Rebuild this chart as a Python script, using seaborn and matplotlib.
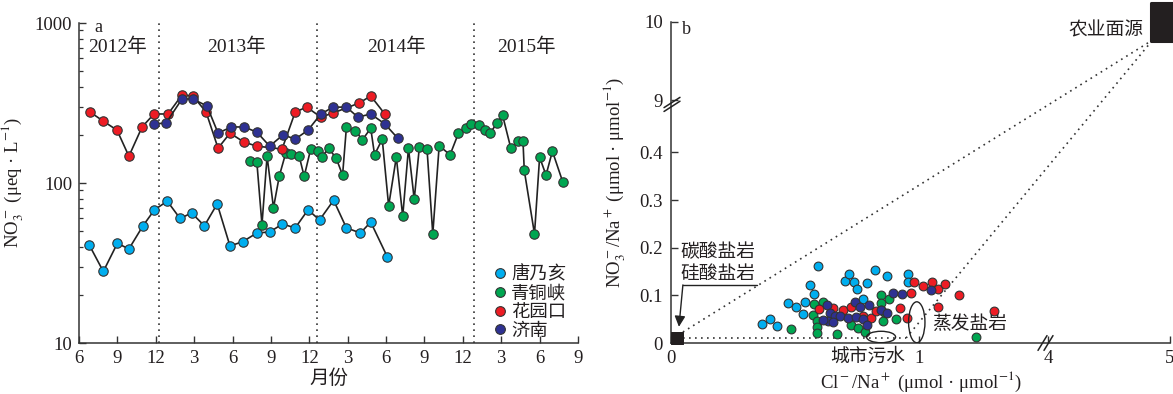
import numpy as np
import pandas as pd
import matplotlib
matplotlib.use('Agg')
import matplotlib.pyplot as plt
import seaborn as sns
from matplotlib.lines import Line2D
from matplotlib.patches import Ellipse

# ---------------- data: panel a (months since June 2012) ----------------
stations = ['唐乃亥', '青铜峡', '花园口', '济南']
colors = ['#00AEEF', '#00A651', '#ED1C24', '#2E3192']

m_tnh = [0.8, 1.9, 3.0, 3.9, 5.0, 5.9, 6.9, 7.9, 8.8, 9.8, 10.8, 11.8, 12.8, 13.9,
         14.9, 15.9, 16.9, 17.9, 18.8, 19.9, 20.9, 22.0, 22.8, 24.1]
v_tnh = [41, 28, 42, 38.7, 54, 68, 77, 60, 65, 54, 74, 40.4, 43, 48.7,
         49.4, 55.4, 52.4, 68, 58.7, 78, 52.4, 48.7, 57, 34.5]

m_qtx = [13.4, 13.9, 14.3, 14.7, 15.2, 15.66, 16.15, 16.6, 17.2, 17.6, 18.1, 18.7,
         19.0, 19.5, 20.1, 20.6, 20.9, 21.6, 22.15, 22.8, 23.1, 23.7, 24.2, 24.8,
         25.3, 25.75, 26.2, 26.6, 27.2, 27.65, 28.15, 29.0, 29.65, 30.26, 30.65,
         31.27, 31.74, 32.1, 32.7, 33.1, 33.75, 34.3, 34.7, 34.8, 35.6, 36.0, 36.5,
         37.0, 37.8]
v_qtx = [138, 135, 55, 147, 70, 111, 153, 152, 148, 110, 162, 158,
         146, 165, 143, 112, 223, 212, 186, 220, 150, 188, 72, 145,
         62, 165, 79, 167, 163, 48, 171, 150, 204, 220, 234,
         230, 214, 204, 238, 266, 165, 183, 183, 120, 48, 145, 112,
         158, 102]

m_hyk = [0.86, 1.88, 2.97, 3.9, 4.93, 5.86, 6.96, 8.05, 8.9, 9.93, 10.87, 11.8,
         12.9, 13.9, 15.87, 16.9, 17.8, 18.9, 19.86, 21.9, 22.8, 23.9]
v_hyk = [278, 244, 214, 147, 224, 270, 270, 355, 350, 278, 165, 205,
         180, 170, 163, 278, 298, 258, 274, 316, 350, 270]

m_jn = [5.86, 6.8, 8.05, 8.9, 10.0, 10.87, 11.9, 12.9, 13.9, 14.9, 15.95, 16.9,
        17.9, 18.9, 19.86, 20.9, 21.8, 22.8, 23.9, 24.9]
v_jn = [234, 237, 335, 335, 303, 205, 224, 224, 208, 170, 200, 188,
        214, 270, 298, 298, 258, 270, 234, 191]

month_ticks = list(range(0, 40, 3))
month_labels = ['6', '9', '12', '3', '6', '9', '12', '3', '6', '9', '12', '3', '6', '9']
year_bounds = [6.22, 18.58, 30.9]
year_labels = ['2012年', '2013年', '2014年', '2015年']
year_pos = [3.0, 12.3, 24.8, 35.0]

# ---------------- data: panel b ----------------
clna_tnh = [0.367, 0.399, 0.427, 0.472, 0.504, 0.532, 0.540, 0.560, 0.575, 0.592,
            0.702, 0.719, 0.738, 0.751, 0.773, 0.789, 0.823, 0.870, 0.954, 0.954]
nona_tnh = [0.040, 0.050, 0.036, 0.084, 0.075, 0.061, 0.086, 0.121, 0.102, 0.162,
            0.130, 0.145, 0.128, 0.114, 0.093, 0.125, 0.153, 0.141, 0.144, 0.129]

clna_qtx = [0.482, 0.578, 0.613, 0.574, 0.589, 0.589, 0.589, 0.671, 0.726, 0.754,
            0.782, 0.847, 0.879, 0.846, 0.846, 0.863, 0.907, 0.856, 1.230]
nona_qtx = [0.029, 0.082, 0.087, 0.059, 0.046, 0.034, 0.020, 0.019, 0.038, 0.032,
            0.024, 0.100, 0.092, 0.083, 0.069, 0.062, 0.051, 0.046, 0.013]

clna_hyk = [0.597, 0.653, 0.695, 0.724, 0.775, 0.805, 0.825, 0.923, 0.952, 0.978,
            0.968, 1.017, 1.054, 1.078, 1.105, 1.162, 1.075, 1.302]
nona_hyk = [0.072, 0.074, 0.070, 0.075, 0.057, 0.052, 0.067, 0.073, 0.052, 0.129,
            0.106, 0.120, 0.129, 0.113, 0.124, 0.101, 0.075, 0.067]

clna_jn = [0.628, 0.641, 0.661, 0.681, 0.634, 0.654, 0.614, 0.715, 0.742, 0.762,
           0.800, 0.746, 0.773, 0.789, 0.847, 0.872, 0.894, 0.933, 1.050]
nona_jn = [0.080, 0.064, 0.057, 0.057, 0.047, 0.045, 0.048, 0.052, 0.087, 0.076,
           0.080, 0.054, 0.050, 0.038, 0.069, 0.064, 0.104, 0.102, 0.111]

# end members: carbonate/silicate (origin) and agricultural source
em_x = [0.024, 5.0]
em_y = [0.011, 10.0]

# ---------------- style ----------------
sns.set_theme(style='ticks')
plt.rcParams['font.family'] = ['Liberation Serif', 'Noto Sans CJK SC']
plt.rcParams['mathtext.fontset'] = 'stix'
plt.rcParams['axes.unicode_minus'] = False
TXT = '#231F20'
plt.rcParams.update({
    'xtick.direction': 'in', 'ytick.direction': 'in',
    'axes.edgecolor': '#333333', 'axes.linewidth': 1.1,
    'xtick.color': '#333333', 'ytick.color': '#333333',
    'xtick.labelcolor': TXT, 'ytick.labelcolor': TXT,
    'text.color': TXT, 'axes.labelcolor': TXT,
    'xtick.major.width': 1.0, 'ytick.major.width': 1.0,
    'ytick.minor.width': 0.9,
})
FS = 13.5
EDGE = '#333333'

fig = plt.figure(figsize=(11.73, 3.94), dpi=100)
ax1 = fig.add_axes([79 / 1173, 51 / 394, 499 / 1173, 320 / 394])
ax2 = fig.add_axes([671 / 1173, 51 / 394, 499 / 1173, 321 / 394])

# ---------------- panel a ----------------
ax1.set_yscale('log')
series_a = [(m_tnh, v_tnh), (m_qtx, v_qtx), (m_hyk, v_hyk), (m_jn, v_jn)]
for i, ((mx, vy), c) in enumerate(zip(series_a, colors)):
    df = pd.DataFrame({'m': mx, 'v': vy})
    sns.lineplot(data=df, x='m', y='v', estimator=None, sort=False, color='#222222',
                 lw=1.2, ax=ax1, zorder=2 + 2 * i)
    sns.scatterplot(data=df, x='m', y='v', color=c, edgecolor=EDGE, linewidth=0.8,
                    s=46, ax=ax1, zorder=3 + 2 * i, legend=False)

for b in year_bounds:
    ax1.axvline(b, color='#333333', lw=1.2, ls=(0, (1, 2.6)), zorder=1)
for lab, p in zip(year_labels, year_pos):
    ax1.text(p, 0.925, lab, transform=ax1.get_xaxis_transform(), ha='center',
             va='center', fontsize=14)
ax1.text(0.030, 0.985, 'a', transform=ax1.transAxes, ha='left', va='center', fontsize=13)

ax1.set_xlim(0, 39)
ax1.set_ylim(10, 1000)
ax1.set_xticks(month_ticks)
ax1.set_xticklabels(month_labels)
ax1.set_yticks([10, 100, 1000])
ax1.set_yticklabels(['10', '100', '1000'])
ax1.tick_params(axis='both', which='major', labelsize=FS, length=5, pad=5)
ax1.tick_params(axis='y', which='minor', length=3)
ax1.set_xlabel('月份', fontsize=14, labelpad=2)
ax1.set_ylabel(r'NO$_3^-$ (μeq · L$^{-1}$)', fontsize=FS, labelpad=6)
sns.despine(ax=ax1)

handles = [Line2D([], [], ls='none', marker='o', ms=7, mfc=c, mec=EDGE, mew=0.8)
           for c in colors]
ax1.legend(handles, stations, loc='lower left', bbox_to_anchor=(0.833, 0.01),
           frameon=False, handlelength=0.6, handletextpad=0.3, labelspacing=0.1,
           borderpad=0, borderaxespad=0, prop={'size': 13.2})

# ---------------- panel b ----------------
xb = np.array([-10.0, 0.0, 1.5, 4.0, 5.0, 20.0])
xt = np.array([-10.0, 0.0, 1.5, 1.52, 2.012, 2.012 + 15 * 0.492])
yb = np.array([-10.0, 0.0, 0.5, 9.0, 10.0, 30.0])
yt = np.array([-10.0, 0.0, 0.5, 0.51, 0.674, 0.674 + 20 * 0.164])


def fx(x):
    return np.interp(x, xb, xt)


def ifx(t):
    return np.interp(t, xt, xb)


def fy(y):
    return np.interp(y, yb, yt)


def ify(t):
    return np.interp(t, yt, yb)


ax2.set_xscale('function', functions=(fx, ifx))
ax2.set_yscale('function', functions=(fy, ify))
ax2.set_xlim(0, 5)
ax2.set_ylim(0, 10)

series_b = [(clna_tnh, nona_tnh), (clna_qtx, nona_qtx), (clna_hyk, nona_hyk),
            (clna_jn, nona_jn)]
for i, ((bx, by), c) in enumerate(zip(series_b, colors)):
    sns.scatterplot(x=bx, y=by, color=c, edgecolor=EDGE, linewidth=0.8, s=40,
                    ax=ax2, zorder=5 + i, legend=False)

# mixing lines (dotted)
dot = dict(color='#333333', lw=1.2, ls=(0, (1, 2.6)), zorder=2)
ax2.plot([0.048, 4.858], [0.023, 9.77], **dot)
ax2.plot([0.048, 0.948], [0.0105, 0.0105], **dot)
ax2.plot([0.948, 4.858], [0.0105, 9.77], **dot)

# end members
sns.scatterplot(x=em_x[:1], y=em_y[:1], marker='s', color='#231F20', s=80,
                edgecolor='#231F20', ax=ax2, zorder=8, clip_on=False, legend=False)
sns.scatterplot(x=em_x[1:], y=em_y[1:], marker='s', color='#231F20', s=760,
                edgecolor='#231F20', ax=ax2, zorder=8, clip_on=False, legend=False)

# ellipses
ax2.add_patch(Ellipse((0.847, 0.0126), 0.117, 0.024, fill=False, ec='#222222',
                      lw=1.0, zorder=9))
ax2.add_patch(Ellipse((0.991, 0.0435), 0.066, 0.086, fill=False, ec='#222222',
                      lw=1.0, zorder=9))

ax2.text(4.78, 9.89, '农业面源', ha='right', va='center', fontsize=13.5)
ax2.text(0.19, 0.191, '碳酸盐岩', ha='center', va='center', fontsize=13.5)
ax2.text(0.19, 0.145, '硅酸盐岩', ha='center', va='center', fontsize=13.5)
ax2.text(1.206, 0.040, '蒸发盐岩', ha='center', va='center', fontsize=13.5)
ax2.text(0.794, -0.03, '城市污水', ha='center', va='center', fontsize=13.5,
         clip_on=False)
ax2.text(0.022, 0.978, 'b', transform=ax2.transAxes, ha='left', va='center',
         fontsize=13)

ax2.plot([0.347, 0.048], [0.122, 0.122], color='#222222', lw=1.0, zorder=9)
ax2.annotate('', xy=(0.032, 0.034), xytext=(0.048, 0.122),
             arrowprops=dict(arrowstyle='-|>', color='#222222', lw=1.0,
                             mutation_scale=16, shrinkA=0, shrinkB=0), zorder=9)

ax2.set_xticks([0, 1, 4, 5])
ax2.set_xticklabels(['0', '1', '4', '5'])
ax2.set_yticks([0, 0.1, 0.2, 0.3, 0.4, 9, 10])
ax2.set_yticklabels(['0', '0.1', '0.2', '0.3', '0.4', '9', '10'])
ax2.minorticks_off()
ax2.tick_params(axis='both', which='major', labelsize=FS, length=5, pad=5)
ax2.tick_params(axis='y', pad=6)
ax2.set_xlabel(r'Cl$^-$/Na$^+$ (μmol · μmol$^{-1}$)', fontsize=FS, labelpad=2)
ax2.set_ylabel(r'NO$_3^-$/Na$^+$ (μmol · μmol$^{-1}$)', fontsize=FS, labelpad=8)
sns.despine(ax=ax2)

# axis break marks
brk = dict(color='#222222', lw=1.1, clip_on=False, zorder=10)
yf = 0.505 / 0.674
for d in (-0.012, 0.0):
    ax2.plot([-0.014, 0.018], [yf - 0.016 + d, yf + 0.016 + d], transform=ax2.transAxes, **brk)
xf = 1.51 / 2.012
for d in (-0.006, 0.006):
    ax2.plot([xf - 0.009 + d, xf + 0.009 + d], [-0.023, 0.023], transform=ax2.transAxes, **brk)

fig.savefig('out.png', dpi=100)
